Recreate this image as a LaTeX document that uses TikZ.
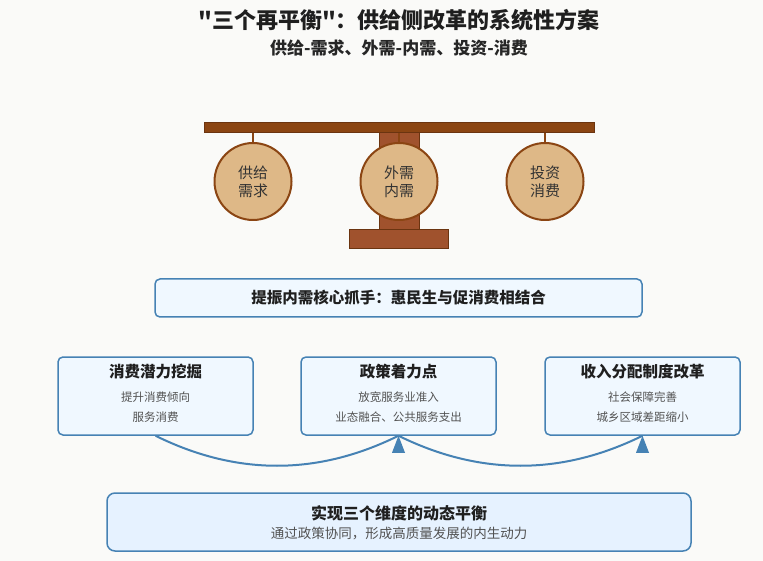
\documentclass[tikz,border=0pt]{standalone}
\usepackage{fontspec}
\setmainfont{Noto Sans CJK SC}
\newfontfamily\plaintitle{Noto Sans CJK SC}[Ligatures=TeXOff]
\usetikzlibrary{positioning}
\definecolor{beambrown}{HTML}{8B4513}
\definecolor{beamedge}{HTML}{6B3410}
\definecolor{pillarbrown}{HTML}{A0522D}
\definecolor{weightfill}{HTML}{DEB887}
\definecolor{steel}{HTML}{4682B4}
\definecolor{boxfill}{HTML}{F0F8FF}
\definecolor{basefill}{HTML}{E6F2FF}
\definecolor{bgcol}{HTML}{FAFAF8}
\tikzset{
	titletext/.style={font=\plaintitle\bfseries\fontsize{22}{26}\selectfont, text=black!88},
	subtitletext/.style={font=\bfseries\fontsize{17}{20}\selectfont, text=black!85}
}
\tikzset{
	weight/.style={circle, draw=beambrown, line width=2pt, fill=weightfill,
		minimum size=77pt, inner sep=0pt, align=center,
		font=\fontsize{15}{18}\selectfont, text=black!80},
	hangline/.style={draw=beambrown, line width=1.5pt},
	infobox/.style={draw=steel, line width=1.5pt, fill=boxfill, rounded corners=5pt,
		inner sep=0pt},
	boxtitle/.style={font=\bfseries\fontsize{15.5}{18}\selectfont, text=black!88},
	boxnote/.style={font=\fontsize{11.5}{14}\selectfont, text=black!68},
	flowcurve/.style={draw=steel, line width=2pt}
}
\tikzset{
  uptip/.pic={
    \fill[steel] (0,0) -- (-6.5,17) -- (6.5,17) -- cycle;
  }
}
\begin{document}
\begin{tikzpicture}[x=1pt, y=-1pt]
  \fill[bgcol] (0,0) rectangle (763,561);
  \useasboundingbox (0,0) rectangle (763,561);
  \node[titletext] (title) at (399,20) {"三个再平衡"：供给侧改革的系统性方案};
  \node[subtitletext] (subtitle) at (399,48) {供给-需求、外需-内需、投资-消费};
  % the scale: pillar and base first, beam over them
  \draw[draw=beamedge, fill=pillarbrown, line width=1pt] (379,133) rectangle (419,231);
  \draw[draw=beamedge, fill=pillarbrown, line width=1pt] (349,230) rectangle (448,249);
  \draw[draw=beamedge, fill=beambrown, line width=1pt] (204,123) rectangle (594,133);
  \draw[hangline] (253,133) -- (253,142);
  \draw[hangline] (399,133) -- (399,142);
  \draw[hangline] (545,133) -- (545,142);
  \node[weight] (supply) at (253,181.5) {供给\\需求};
  \node[weight] (demand) at (399,181.5) {外需\\内需};
  \node[weight] (invest) at (545,181.5) {投资\\消费};
  \node[infobox, minimum width=487pt, minimum height=38pt] (core) at (398.5,298) {};
  \node[boxtitle] (coretext) at (398.5,298) {提振内需核心抓手：惠民生与促消费相结合};
  \node[infobox, minimum width=195pt, minimum height=78pt] (consbox) at (155.5,396) {};
  \node[boxtitle] (constitle) at (155.5,372) {消费潜力挖掘};
  \node[boxnote] (consnote1) at (155.5,397) {提升消费倾向};
  \node[boxnote] (consnote2) at (155.5,417) {服务消费};
  \node[infobox, minimum width=195pt, minimum height=78pt] (policybox) at (398.5,396) {};
  \node[boxtitle] (policytitle) at (398.5,372) {政策着力点};
  \node[boxnote] (policynote1) at (398.5,397) {放宽服务业准入};
  \node[boxnote] (policynote2) at (398.5,417) {业态融合、公共服务支出};
  \node[infobox, minimum width=195pt, minimum height=78pt] (incomebox) at (642.5,396) {};
  \node[boxtitle] (incometitle) at (642.5,372) {收入分配制度改革};
  \node[boxnote] (incomenote1) at (642.5,397) {社会保障完善};
  \node[boxnote] (incomenote2) at (642.5,417) {城乡区域差距缩小};
  \draw[flowcurve] (consbox.south) .. controls +(81,40) and +(-81,40) .. (policybox.south);
  \draw[flowcurve] (policybox.south) .. controls +(81,40) and +(-81,40) .. (incomebox.south);
  \pic at (policybox.south) {uptip};
  \pic at (incomebox.south) {uptip};
  \node[infobox, fill=basefill, rounded corners=8pt, minimum width=584pt, minimum height=58pt] (goal) at (399,522) {};
  \node[boxtitle, font=\bfseries\fontsize{16}{19}\selectfont] (goaltitle) at (399,513) {实现三个维度的动态平衡};
  \node[boxnote, font=\fontsize{13.5}{16}\selectfont] (goalnote) at (399,533.5) {通过政策协同，形成高质量发展的内生动力};
\end{tikzpicture}
\end{document}
